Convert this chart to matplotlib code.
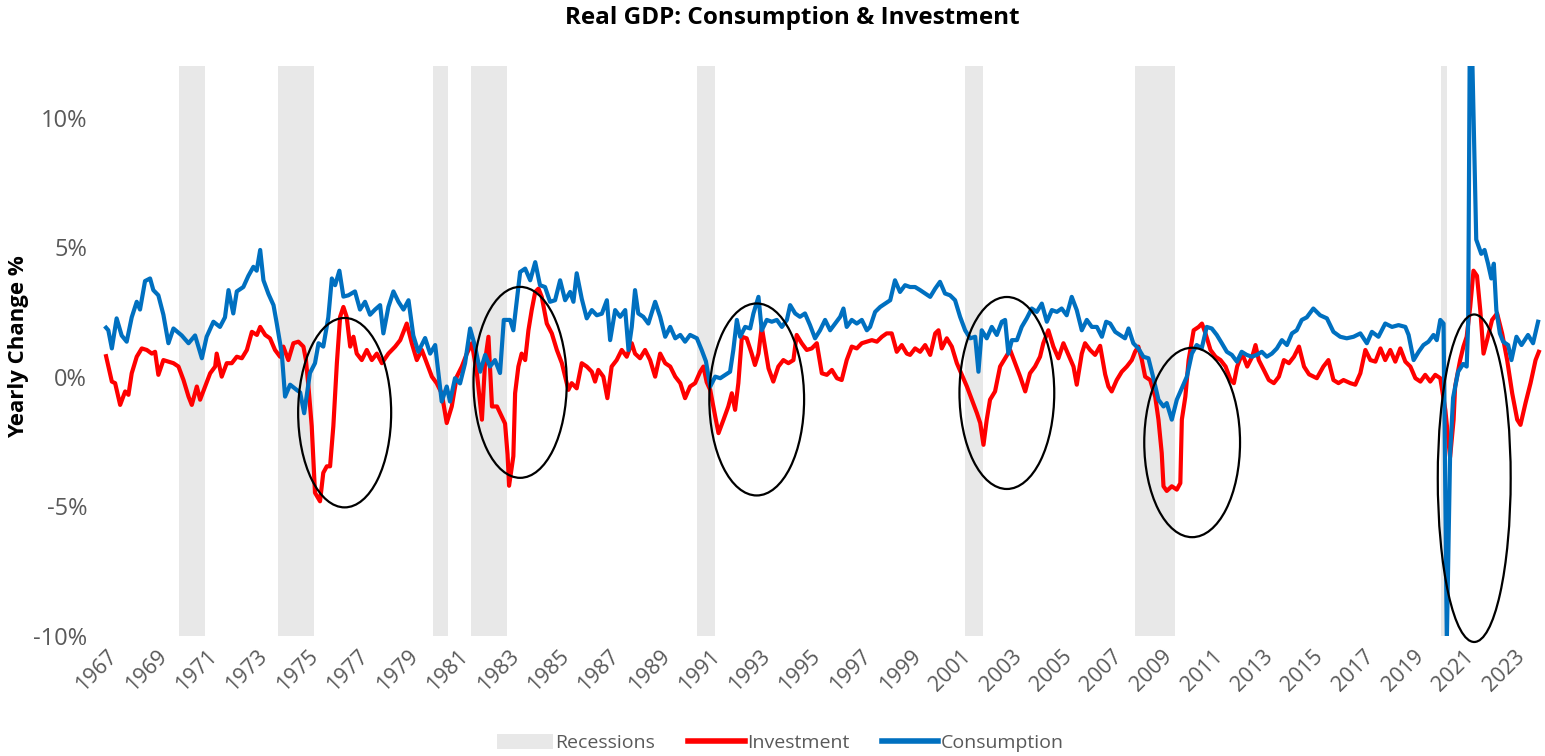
import matplotlib
matplotlib.use("Agg")
import matplotlib.pyplot as plt
from matplotlib.patches import Ellipse, Patch
from matplotlib.lines import Line2D

plt.rcParams['font.family'] = ['Open Sans', 'DejaVu Sans']

###############################################################################
# Data (decimal year, yearly change %)
###############################################################################
con_years = [1967.0, 1967.09, 1967.23, 1967.42, 1967.62, 1967.82, 1968.02, 1968.22, 1968.35, 1968.55,
             1968.75, 1968.88, 1969.08, 1969.28, 1969.48, 1969.68, 1970.01, 1970.28, 1970.54, 1970.81,
             1971.0, 1971.27, 1971.53, 1971.73, 1971.87, 1972.06, 1972.2, 1972.46, 1972.66, 1972.86,
             1972.99, 1973.13, 1973.26, 1973.46, 1973.66, 1973.79, 1973.99, 1974.12, 1974.32, 1974.58,
             1974.72, 1974.88, 1975.11, 1975.31, 1975.45, 1975.64, 1975.84, 1975.98, 1976.11, 1976.28,
             1976.44, 1976.64, 1976.9, 1977.1, 1977.3, 1977.5, 1977.7, 1977.9, 1978.03, 1978.23,
             1978.43, 1978.63, 1978.83, 1979.03, 1979.22, 1979.42, 1979.69, 1979.89, 1980.09, 1980.35,
             1980.55, 1980.68, 1980.88, 1981.08, 1981.28, 1981.48, 1981.68, 1981.88, 1982.08, 1982.27,
             1982.47, 1982.67, 1982.82, 1983.07, 1983.2, 1983.34, 1983.47, 1983.67, 1983.87, 1984.07,
             1984.26, 1984.46, 1984.66, 1984.86, 1985.06, 1985.26, 1985.46, 1985.59, 1985.72, 1985.92,
             1986.12, 1986.32, 1986.52, 1986.72, 1986.92, 1987.05, 1987.25, 1987.45, 1987.65, 1987.78,
             1987.91, 1988.04, 1988.17, 1988.37, 1988.57, 1988.84, 1989.04, 1989.24, 1989.44, 1989.64,
             1989.84, 1990.03, 1990.23, 1990.5, 1990.69, 1990.86, 1991.03, 1991.23, 1991.43, 1991.63,
             1991.82, 1991.95, 1992.09, 1992.22, 1992.42, 1992.62, 1992.75, 1992.95, 1993.08, 1993.28,
             1993.48, 1993.68, 1993.88, 1994.08, 1994.21, 1994.41, 1994.6, 1994.8, 1995.0, 1995.2,
             1995.4, 1995.6, 1995.8, 1996.0, 1996.2, 1996.33, 1996.46, 1996.66, 1996.86, 1997.06,
             1997.26, 1997.39, 1997.59, 1997.79, 1997.99, 1998.19, 1998.38, 1998.58, 1998.78, 1998.98,
             1999.18, 1999.38, 1999.58, 1999.78, 1999.98, 2000.17, 2000.37, 2000.57, 2000.77, 2000.97,
             2001.17, 2001.37, 2001.57, 2001.7, 2001.83, 2002.03, 2002.23, 2002.43, 2002.63, 2002.76,
             2002.89, 2003.03, 2003.23, 2003.42, 2003.62, 2003.82, 2004.02, 2004.22, 2004.42, 2004.62,
             2004.82, 2005.01, 2005.21, 2005.41, 2005.61, 2005.81, 2006.01, 2006.21, 2006.41, 2006.61,
             2006.78, 2006.94, 2007.14, 2007.33, 2007.53, 2007.67, 2007.86, 2008.06, 2008.26, 2008.46,
             2008.66, 2008.86, 2009.06, 2009.19, 2009.39, 2009.59, 2009.79, 2009.99, 2010.19, 2010.38,
             2010.58, 2010.78, 2010.98, 2011.18, 2011.38, 2011.58, 2011.78, 2011.98, 2012.17, 2012.37,
             2012.57, 2012.77, 2012.97, 2013.17, 2013.37, 2013.57, 2013.77, 2013.97, 2014.17, 2014.36,
             2014.56, 2014.76, 2015.02, 2015.29, 2015.56, 2015.82, 2016.09, 2016.35, 2016.62, 2016.89,
             2017.15, 2017.35, 2017.61, 2017.88, 2018.15, 2018.41, 2018.68, 2018.81, 2019.01, 2019.21,
             2019.4, 2019.6, 2019.8, 2019.93, 2020.07, 2020.2, 2020.33, 2020.46, 2020.58, 2020.78,
             2020.98, 2021.12, 2021.18, 2021.26, 2021.5, 2021.7, 2021.83, 2021.97, 2022.1, 2022.2,
             2022.3, 2022.44, 2022.57, 2022.77, 2022.9, 2023.1, 2023.3, 2023.56, 2023.76, 2023.96]
con_values = [1.9, 1.8, 1.1, 2.26, 1.6, 1.36, 2.3, 2.9, 2.6, 3.7,
              3.8, 3.35, 3.15, 2.4, 1.3, 1.87, 1.6, 1.3, 1.6, 0.72,
              1.55, 2.13, 1.93, 2.3, 3.35, 2.45, 3.3, 3.47, 3.9, 4.25,
              4.1, 4.9, 3.73, 3.2, 2.77, 2.06, 0.9, -0.76, -0.3, -0.5,
              -0.6, -1.4, 0.15, 0.53, 1.3, 1.17, 2.3, 3.8, 3.54, 4.1,
              3.1, 3.15, 3.3, 2.6, 2.9, 2.4, 2.6, 2.77, 1.68, 2.7,
              3.3, 2.9, 2.6, 2.96, 1.6, 0.97, 1.5, 0.9, 1.23, -0.95,
              -0.37, -0.95, -0.05, -0.25, 0.53, 1.87, 1.17, 0.2, 0.85, 0.4,
              0.65, 0.15, 2.2, 2.2, 1.8, 2.96, 4.05, 4.18, 3.73, 4.43,
              3.54, 3.47, 2.9, 2.96, 3.73, 2.96, 3.28, 2.9, 4.0, 3.02,
              2.26, 2.58, 2.38, 2.44, 2.96, 1.42, 2.58, 2.32, 2.58, 1.04,
              1.93, 3.35, 2.45, 2.32, 2.06, 2.9, 2.32, 1.55, 1.93, 1.49,
              1.62, 1.36, 1.62, 1.49, 1.04, 0.6, -0.37, 0.01, -0.05, 0.08,
              0.2, 1.04, 2.2, 1.55, 1.93, 1.87, 2.45, 3.09, 1.8, 2.2,
              2.13, 2.2, 1.93, 2.2, 2.77, 2.45, 2.32, 2.45, 2.0, 1.49,
              1.8, 2.2, 1.8, 2.06, 2.32, 2.64, 1.93, 2.2, 2.06, 2.2,
              1.8, 1.93, 2.51, 2.7, 2.83, 2.96, 3.73, 3.28, 3.54, 3.47,
              3.47, 3.35, 3.22, 3.09, 3.41, 3.67, 3.22, 3.15, 2.96, 2.32,
              1.8, 1.49, 1.55, 0.2, 1.8, 1.49, 1.93, 1.62, 2.13, 2.2,
              0.9, 1.42, 1.42, 1.93, 2.26, 2.64, 2.51, 2.83, 2.13, 2.58,
              2.51, 2.64, 2.38, 3.09, 2.58, 1.8, 2.2, 1.93, 1.93, 1.55,
              2.13, 2.06, 1.74, 1.62, 1.49, 1.87, 1.3, 1.1, 0.78, 0.72,
              -0.05, -0.88, -1.14, -1.01, -1.65, -0.88, -0.44, 0.01, 0.9, 1.23,
              1.1, 1.93, 1.87, 1.62, 1.3, 0.97, 0.85, 0.59, 0.97, 0.85,
              0.78, 0.85, 0.97, 0.78, 0.9, 1.1, 1.42, 1.23, 1.68, 1.8,
              2.2, 2.3, 2.64, 2.38, 2.26, 1.74, 1.55, 1.49, 1.55, 1.68,
              1.3, 1.74, 1.55, 2.06, 1.93, 2.0, 1.93, 1.62, 0.65, 0.97,
              1.23, 1.36, 1.62, 1.42, 2.2, 2.06, -10.2, -3.0, -0.8, 0.2,
              0.5, 0.4, 2.1, 16.0, 5.3, 4.75, 4.9, 4.37, 3.8, 4.37,
              2.58, 1.68, 1.36, 1.23, 0.65, 1.55, 1.23, 1.62, 1.3, 2.13]

inv_years = [1967.0, 1967.23, 1967.36, 1967.56, 1967.76, 1967.89, 1968.02, 1968.22, 1968.42, 1968.62,
             1968.82, 1968.95, 1969.08, 1969.28, 1969.48, 1969.68, 1969.88, 1970.08, 1970.28, 1970.41,
             1970.61, 1970.74, 1970.94, 1971.14, 1971.34, 1971.4, 1971.6, 1971.8, 1972.0, 1972.2,
             1972.4, 1972.6, 1972.8, 1973.0, 1973.13, 1973.33, 1973.52, 1973.72, 1973.92, 1974.05,
             1974.25, 1974.45, 1974.65, 1974.85, 1974.95, 1975.05, 1975.18, 1975.31, 1975.51, 1975.64,
             1975.78, 1975.91, 1976.04, 1976.18, 1976.31, 1976.44, 1976.57, 1976.71, 1976.84, 1976.97,
             1977.17, 1977.37, 1977.57, 1977.77, 1977.97, 1978.23, 1978.5, 1978.7, 1978.96, 1979.16,
             1979.36, 1979.56, 1979.76, 1979.96, 1980.15, 1980.35, 1980.55, 1980.75, 1980.95, 1981.15,
             1981.35, 1981.55, 1981.75, 1981.95, 1982.08, 1982.21, 1982.35, 1982.55, 1982.74, 1982.87,
             1982.97, 1983.03, 1983.2, 1983.27, 1983.4, 1983.53, 1983.67, 1983.8, 1983.93, 1984.07,
             1984.2, 1984.33, 1984.53, 1984.73, 1984.93, 1985.13, 1985.26, 1985.39, 1985.52, 1985.72,
             1985.92, 1986.12, 1986.32, 1986.45, 1986.58, 1986.78, 1986.94, 1987.11, 1987.31, 1987.51,
             1987.71, 1987.91, 1988.04, 1988.24, 1988.44, 1988.64, 1988.84, 1989.04, 1989.24, 1989.44,
             1989.64, 1989.84, 1990.03, 1990.23, 1990.43, 1990.63, 1990.76, 1990.89, 1991.03, 1991.23,
             1991.36, 1991.56, 1991.75, 1991.89, 1992.02, 1992.15, 1992.29, 1992.48, 1992.68, 1992.81,
             1992.95, 1993.08, 1993.21, 1993.35, 1993.54, 1993.74, 1993.94, 1994.14, 1994.34, 1994.47,
             1994.67, 1994.87, 1995.07, 1995.27, 1995.47, 1995.67, 1995.87, 1996.07, 1996.26, 1996.46,
             1996.66, 1996.86, 1997.06, 1997.26, 1997.46, 1997.66, 1997.86, 1998.05, 1998.25, 1998.45,
             1998.65, 1998.85, 1998.98, 1999.18, 1999.38, 1999.58, 1999.78, 1999.98, 2000.11, 2000.24,
             2000.44, 2000.64, 2000.84, 2001.04, 2001.24, 2001.44, 2001.64, 2001.77, 2001.9, 2002.03,
             2002.16, 2002.36, 2002.56, 2002.76, 2002.96, 2003.16, 2003.36, 2003.56, 2003.75, 2003.95,
             2004.15, 2004.28, 2004.48, 2004.68, 2004.88, 2005.08, 2005.28, 2005.48, 2005.61, 2005.81,
             2005.94, 2006.14, 2006.34, 2006.54, 2006.74, 2006.87, 2007.0, 2007.2, 2007.4, 2007.6,
             2007.8, 2007.93, 2008.06, 2008.2, 2008.33, 2008.53, 2008.73, 2008.86, 2008.99, 2009.06,
             2009.19, 2009.39, 2009.59, 2009.73, 2009.79, 2009.93, 2010.06, 2010.26, 2010.46, 2010.59,
             2010.73, 2010.93, 2011.13, 2011.33, 2011.53, 2011.73, 2011.86, 2011.99, 2012.19, 2012.39,
             2012.59, 2012.72, 2012.85, 2013.05, 2013.25, 2013.45, 2013.65, 2013.85, 2014.05, 2014.25,
             2014.45, 2014.65, 2014.85, 2015.16, 2015.42, 2015.62, 2015.82, 2016.02, 2016.22, 2016.49,
             2016.69, 2016.89, 2017.09, 2017.29, 2017.49, 2017.69, 2017.88, 2018.08, 2018.28, 2018.48,
             2018.68, 2018.88, 2019.08, 2019.28, 2019.47, 2019.67, 2019.87, 2020.07, 2020.27, 2020.46,
             2020.6, 2020.66, 2020.86, 2020.99, 2021.12, 2021.26, 2021.39, 2021.53, 2021.66, 2021.79,
             2021.93, 2022.13, 2022.33, 2022.53, 2022.73, 2022.93, 2023.13, 2023.26, 2023.46, 2023.66,
             2023.86, 2023.99]
inv_values = [0.8, -0.18, -0.24, -1.08, -0.56, -0.69, 0.14, 0.78, 1.1, 1.04,
              0.9, 0.97, 0.08, 0.65, 0.59, 0.53, 0.4, -0.12, -0.76, -1.08,
              -0.37, -0.88, -0.37, 0.14, 0.4, 0.9, 0.01, 0.53, 0.53, 0.78,
              0.72, 1.04, 1.74, 1.62, 1.93, 1.62, 1.49, 1.04, 0.78, 1.17,
              0.65, 1.3, 1.36, 1.17, 0.65, -0.37, -1.9, -4.47, -4.8, -3.7,
              -3.45, -3.45, -1.9, 0.53, 2.32, 2.7, 2.32, 1.17, 1.55, 0.9,
              0.65, 1.04, 0.65, 0.9, 0.53, 0.9, 1.17, 1.42, 2.06, 1.3,
              0.65, 1.04, 0.53, 0.01, -0.24, -0.63, -1.78, -1.14, 0.01, 0.4,
              0.9, 1.3, 0.14, -1.65, 0.65, 1.55, -1.14, -1.14, -1.53, -1.8,
              -3.0, -4.2, -3.06, -0.63, 0.4, 0.9, 0.65, 1.8, 2.58, 3.28,
              3.41, 3.09, 2.06, 1.68, 1.04, 0.53, 0.01, -0.5, -0.24, -0.44,
              0.53, 0.4, 0.2, -0.18, 0.27, 0.01, -0.82, 0.4, 0.65, 1.04,
              0.78, 1.3, 0.9, 0.72, 1.04, 0.65, 0.01, 0.9, 0.53, 0.4,
              0.01, -0.24, -0.82, -0.37, -0.24, 0.2, 0.4, -0.2, -0.5, -1.53,
              -2.17, -1.65, -1.14, -0.63, -1.27, -0.24, 1.55, 1.49, 0.9, 0.46,
              0.9, 1.93, 1.17, 0.33, -0.18, 0.4, 0.65, 0.53, 0.65, 1.62,
              1.3, 1.04, 1.1, 1.3, 0.14, 0.08, 0.27, -0.05, -0.12, 0.65,
              1.17, 1.1, 1.3, 1.36, 1.42, 1.36, 1.55, 1.68, 1.68, 0.97,
              1.23, 0.9, 0.85, 1.1, 0.97, 1.23, 0.85, 1.68, 1.8, 1.1,
              1.49, 1.17, 0.53, 0.08, -0.37, -0.88, -1.4, -1.78, -2.62, -1.65,
              -0.88, -0.56, 0.4, 0.72, 1.04, 0.53, 0.01, -0.56, 0.14, 0.4,
              0.78, 1.3, 1.8, 1.17, 0.72, 1.3, 0.85, 0.4, -0.3, 0.9,
              1.3, 1.04, 0.85, 1.2, 0.1, -0.37, -0.56, -0.12, 0.2, 0.4,
              0.65, 0.97, 1.17, 0.65, 0.01, -0.12, -0.76, -1.65, -2.94, -4.22,
              -4.4, -4.22, -4.35, -4.1, -1.65, -0.76, 0.65, 1.8, 1.93, 2.06,
              1.68, 1.04, 0.78, 0.65, 0.4, -0.12, -0.24, 0.4, 0.9, 0.4,
              0.78, 1.23, 0.65, 0.27, -0.12, -0.24, 0.01, 0.65, 0.53, 0.78,
              1.17, 0.4, 0.1, -0.05, 0.4, 0.65, -0.12, -0.24, -0.12, -0.24,
              -0.3, 0.14, 1.04, 0.65, 0.59, 1.1, 0.65, 1.04, 0.59, 1.1,
              0.59, 0.4, -0.05, -0.18, 0.08, -0.18, 0.08, -0.05, -1.27, -3.1,
              -1.65, -0.37, 0.65, 1.17, 1.55, 2.7, 4.1, 3.9, 2.58, 0.9,
              1.42, 2.2, 2.45, 1.68, 0.65, -0.63, -1.65, -1.85, -1.01, -0.24,
              0.65, 0.97]

# NBER recessions (start, end)
recessions = [(1969.92, 1970.92), (1973.84, 1975.28), (1980.0, 1980.6), (1981.52, 1982.93),
              (1990.5, 1991.24), (2001.17, 2001.88), (2007.94, 2009.5), (2020.1, 2020.34)]

# highlighted episodes: (centre year, centre %, width in years, height in %)
highlights = [(1976.49, -1.38, 3.70, 7.31), (1983.47, -0.21, 3.71, 7.37),
              (1992.88, -0.87, 3.77, 7.41), (2002.83, -0.62, 3.77, 7.41),
              (2010.20, -2.53, 3.81, 7.31), (2021.42, -3.91, 2.90, 12.64)]

tick_years = list(range(1967, 2024, 2))
y_ticks = [-10, -5, 0, 5, 10]
#------------------------------------------------------------------------------

grey_txt = '#595959'
red = '#FF0000'
blue = '#0070C0'

fig = plt.figure(figsize=(15.45, 7.56), dpi=100)
ax = fig.add_axes([0.0654, 0.1587, 0.9324, 0.754])

for start, end in recessions:
    ax.axvspan(start, end, color='#E8E8E8', lw=0, zorder=0)

ax.plot(inv_years, inv_values, color=red, lw=3.0, zorder=2, solid_joinstyle='round')
ax.plot(con_years, con_values, color=blue, lw=3.0, zorder=3, solid_joinstyle='round')

for cx, cy, w, h in highlights:
    ax.add_patch(Ellipse((cx, cy), w, h, fill=False, ec='black', lw=1.6,
                         zorder=4, clip_on=False))

ax.set_xlim(1966.8, 2024.1)
ax.set_ylim(-10, 12)
ax.set_xticks(tick_years)
ax.set_xticklabels([str(y) for y in tick_years], rotation=45, ha='right',
                   va='top', rotation_mode='anchor', fontsize=15.5)
ax.set_yticks(y_ticks)
ax.set_yticklabels(['{}%'.format(v) for v in y_ticks], fontsize=17)
ax.tick_params(axis='both', length=0, colors=grey_txt)
ax.tick_params(axis='y', pad=10)
ax.tick_params(axis='x', pad=7)
for s in ax.spines.values():
    s.set_visible(False)

fig.text(0.513, 0.976, 'Real GDP: Consumption & Investment', ha='center', va='center',
         fontsize=17.5, fontweight='bold')
fig.text(0.012, 0.541, 'Yearly Change %', rotation=90, ha='center', va='center',
         fontsize=16, fontweight='bold')

handles = [Patch(facecolor='#E8E8E8', edgecolor='none'),
           Line2D([], [], color=red, lw=4),
           Line2D([], [], color=blue, lw=4)]
fig.legend(handles, ['Recessions', 'Investment', 'Consumption'], loc='center',
           bbox_to_anchor=(0.505, 0.017), ncol=3, frameon=False, fontsize=14,
           labelcolor=grey_txt, handlelength=2.9, handletextpad=0.1, columnspacing=1.7,
           handleheight=0.8)

fig.savefig('out.png', dpi=100)
